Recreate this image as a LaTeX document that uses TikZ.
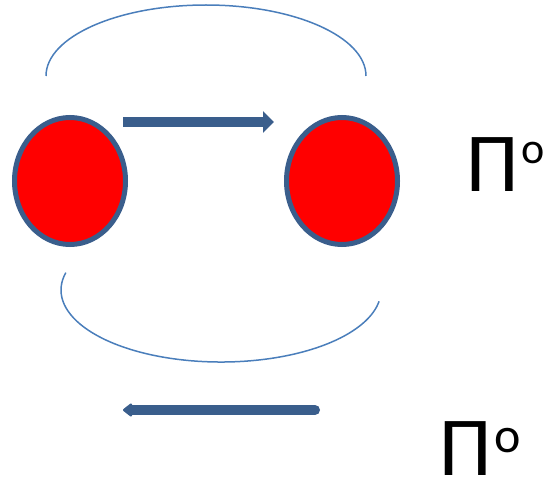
\documentclass[tikz,border=0pt]{standalone}
\usepackage{fontspec}
\setmainfont{Carlito}
\usepackage{xcolor}
\usepackage{tikz}
\usetikzlibrary{arrows.meta,shapes.geometric}
\definecolor{pionblue}{RGB}{58,94,140}
\definecolor{arcblue}{RGB}{74,126,187}
\newcommand{\pisup}[3]{Π\hspace{#1}\raisebox{#2}{\fontsize{#3}{48}\selectfont o}}

\begin{document}
\begin{tikzpicture}[
  x=1pt,y=1pt,
  particle/.style={ellipse,draw=pionblue,line width=5pt,fill=red,inner sep=0pt,
    minimum width=111pt,minimum height=127pt},
  flow/.style={draw=pionblue,line width=10pt},
  loopline/.style={draw=arcblue,line width=1.5pt},
  pilabel/.style={anchor=base west,inner sep=0pt,font=\fontsize{84}{90}\selectfont}
]
\useasboundingbox (0,0) rectangle (546,483);
\node[particle] (left) at (70,302) {};
\node[particle] (right) at (342,302) {};
\node[pilabel] (pitop) at (466,292) {\pisup{3pt}{27pt}{44}};
\node[pilabel] (pibottom) at (439,8) {\pisup{3pt}{23pt}{50}};
\coordinate (topstart) at (123,361);
\coordinate (topend) at (274,361);
\coordinate (botstart) at (315,73);
\coordinate (botend) at (123,73);
\coordinate (arctop) at (46,407);
\coordinate (arcbottom) at (65.8,210.4);
\draw[flow,-{Triangle[width=21pt,length=11pt]}] (topstart) -- (topend);
\draw[flow,line cap=round,-{Triangle[round,width=15pt,length=10pt]}] (botstart) -- (botend);
\draw[loopline] (arctop) arc[start angle=180,end angle=0,x radius=160,y radius=71];
\draw[loopline] (arcbottom) arc[start angle=166,end angle=351,x radius=160,y radius=72];
\end{tikzpicture}
\end{document}
